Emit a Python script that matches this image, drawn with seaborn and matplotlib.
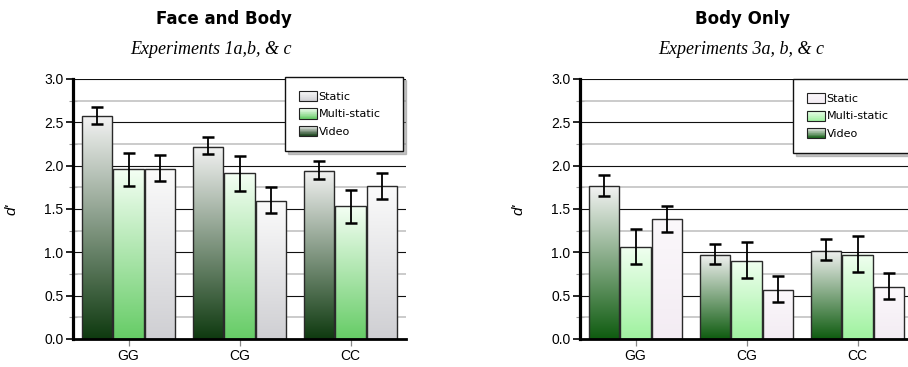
import numpy as np
import pandas as pd
import matplotlib
matplotlib.use("Agg")
import matplotlib.pyplot as plt
import seaborn as sns
from matplotlib.patches import Rectangle, Patch
from matplotlib.legend_handler import HandlerBase
from matplotlib.colors import to_rgb

# ---------------- data ----------------
categories = ["GG", "CG", "CC"]
conditions = ["Video", "Multi-static", "Static"]      # bar order inside a group
legend_order = ["Static", "Multi-static", "Video"]

# Face and Body (Experiments 1a,b, & c)
fb_video = [2.57, 2.22, 1.94]
fb_video_lo = [2.48, 2.14, 1.85]
fb_video_hi = [2.68, 2.33, 2.05]
fb_multi = [1.96, 1.91, 1.53]
fb_multi_lo = [1.77, 1.71, 1.34]
fb_multi_hi = [2.15, 2.11, 1.72]
fb_static = [1.96, 1.59, 1.76]
fb_static_lo = [1.82, 1.45, 1.62]
fb_static_hi = [2.12, 1.75, 1.92]

# Body Only (Experiments 3a, b, & c)
bo_video = [1.76, 0.97, 1.02]
bo_video_lo = [1.65, 0.86, 0.91]
bo_video_hi = [1.89, 1.10, 1.15]
bo_multi = [1.06, 0.90, 0.97]
bo_multi_lo = [0.87, 0.70, 0.77]
bo_multi_hi = [1.27, 1.12, 1.19]
bo_static = [1.38, 0.57, 0.60]
bo_static_lo = [1.24, 0.43, 0.46]
bo_static_hi = [1.54, 0.73, 0.76]

yticks = [0.0, 0.5, 1.0, 1.5, 2.0, 2.5, 3.0]

# gradient colours (top, bottom) per condition
left_grad = {"Video": ("#f2f2f2", "#0f3a10"),
             "Multi-static": ("#f4fff4", "#66cc66"),
             "Static": ("#fbfbfb", "#cfcfd3")}
right_grad = {"Video": ("#f2f2f2", "#0f5c10"),
              "Multi-static": ("#f0fff0", "#9ff29f"),
              "Static": ("#fbf8fb", "#f3ecf3")}


def build_df(vals, los, his):
    rows = []
    for cond, v, lo, hi in zip(conditions, vals, los, his):
        for c, a, b, d in zip(categories, v, lo, hi):
            rows.append({"category": c, "condition": cond, "d": a, "lo": b, "hi": d})
    return pd.DataFrame(rows)


df_left = build_df([fb_video, fb_multi, fb_static],
                   [fb_video_lo, fb_multi_lo, fb_static_lo],
                   [fb_video_hi, fb_multi_hi, fb_static_hi])
df_right = build_df([bo_video, bo_multi, bo_static],
                    [bo_video_lo, bo_multi_lo, bo_static_lo],
                    [bo_video_hi, bo_multi_hi, bo_static_hi])


def gradient_img(top, bottom, n=128):
    t = np.linspace(0, 1, n)[:, None]
    c0 = np.array(to_rgb(top))
    c1 = np.array(to_rgb(bottom))
    img = c0[None, :] * (1 - t[..., None]) + c1[None, :] * t[..., None]
    return img  # row 0 = top


class GradientHandler(HandlerBase):
    def __init__(self, top, bottom):
        super().__init__()
        self.top = top
        self.bottom = bottom

    def create_artists(self, legend, orig_handle, xdescent, ydescent,
                       width, height, fontsize, trans):
        arts = []
        n = 16
        c0 = np.array(to_rgb(self.top))
        c1 = np.array(to_rgb(self.bottom))
        x0, y0 = -xdescent, -ydescent
        for i in range(n):
            t = (i + 0.5) / n
            col = c1 * (1 - t) + c0 * t
            r = Rectangle((x0, y0 + height * i / n), width, height / n + 0.05,
                          facecolor=col, edgecolor="none", transform=trans)
            arts.append(r)
        arts.append(Rectangle((x0, y0), width, height, facecolor="none",
                              edgecolor="#222222", lw=0.8, transform=trans))
        return arts


sns.set_style("white")
plt.rcParams["font.family"] = ["Liberation Sans", "DejaVu Sans"]
plt.rcParams["text.color"] = "black"
plt.rcParams["xtick.color"] = "black"
plt.rcParams["ytick.color"] = "black"
plt.rcParams["axes.labelcolor"] = "black"

fig = plt.figure(figsize=(9.08, 3.67), dpi=100)
ax_l = fig.add_axes([73 / 908, 28 / 367, 333 / 908, 260 / 367])
ax_r = fig.add_axes([580 / 908, 28 / 367, 333 / 908, 260 / 367])


def draw_panel(ax, df, grads, legend_bbox):
    sns.barplot(data=df, x="category", y="d", hue="condition",
                order=categories, hue_order=conditions,
                width=0.845, gap=0.03, errorbar=None, legend=False,
                palette=["#888888"] * 3, ax=ax)
    for cond, cont in zip(conditions, ax.containers):
        top, bottom = grads[cond]
        img = gradient_img(top, bottom)
        for patch in cont.patches:
            x, w, h = patch.get_x(), patch.get_width(), patch.get_height()
            ax.imshow(img, extent=[x, x + w, 0, h], aspect="auto",
                      zorder=2, interpolation="bilinear")
            patch.set_facecolor("none")
            patch.set_edgecolor("#2a2a2a")
            patch.set_linewidth(1.0)
            patch.set_zorder(2.5)
        sub = df[df["condition"] == cond].set_index("category").loc[categories]
        xs = [p.get_x() + p.get_width() / 2 for p in cont.patches]
        yerr = [sub["d"].values - sub["lo"].values, sub["hi"].values - sub["d"].values]
        ax.errorbar(xs, sub["d"].values, yerr=yerr, fmt="none", ecolor="black",
                    elinewidth=1.3, capsize=4.5, capthick=1.8, zorder=4)

    ax.set_xlim(-0.5, 2.5)
    ax.set_ylim(0, 3.0)
    ax.set_yticks(yticks)
    ax.set_yticklabels([f"{v:.1f}" for v in yticks], fontsize=10)
    ax.set_yticks(np.arange(0.25, 3.0, 0.5), minor=True)
    ax.set_xticks(range(len(categories)))
    ax.set_xticklabels(categories, fontsize=10)
    ax.set_xlabel("")
    ax.set_ylabel("d'", fontsize=11, style="italic")
    ax.yaxis.set_label_coords(-0.165, 0.5)

    ax.grid(False)
    ax.set_axisbelow(True)
    for v in yticks[1:]:
        ax.axhline(v, color="#111111", lw=0.8, zorder=1)
    for v in np.arange(0.25, 3.0, 0.5):
        ax.axhline(v, color="#bdbdbd", lw=1.1, zorder=1)

    for s in ["top", "right"]:
        ax.spines[s].set_visible(False)
    ax.spines["left"].set_linewidth(2.3)
    ax.spines["left"].set_color("black")
    ax.spines["bottom"].set_linewidth(2.0)
    ax.spines["bottom"].set_color("black")
    ax.spines["bottom"].set_zorder(3)

    ax.tick_params(axis="y", which="major", direction="out", length=5,
                   width=1.2, color="black", pad=2, left=True)
    ax.tick_params(axis="y", which="minor", direction="inout", length=6,
                   width=0.8, color="#999999", left=True)
    ax.tick_params(axis="x", which="major", direction="out", length=5,
                   width=0.9, color="#888888", pad=2, bottom=True)

    handles = [Patch(label=l) for l in legend_order]
    hmap = {h: GradientHandler(*grads[l]) for h, l in zip(handles, legend_order)}
    leg = ax.legend(handles=handles, labels=legend_order, handler_map=hmap,
                    loc="upper left", bbox_to_anchor=legend_bbox, mode="expand",
                    prop={"family": "DejaVu Sans", "size": 8},
                    frameon=True, fancybox=False, framealpha=1.0,
                    edgecolor="#111111", borderpad=1.25, handlelength=1.6,
                    handleheight=1.05, handletextpad=0.15, labelspacing=0.6,
                    borderaxespad=0,
                    shadow={"color": "0.55", "alpha": 0.5})
    leg.get_frame().set_linewidth(1.0)
    leg.set_zorder(6)


draw_panel(ax_l, df_left, left_grad, (0.637, 0.715, 0.354, 0.293))
draw_panel(ax_r, df_right, right_grad, (0.64, 0.70, 0.40, 0.30))

fig.text(224 / 908, 1 - 19 / 367, "Face and Body", ha="center", va="center",
         fontsize=12, fontweight="bold", family="DejaVu Sans", color="black")
fig.text(211 / 908, 1 - 50 / 367, "Experiments 1a,b, & c", ha="center",
         va="center", fontsize=13, style="italic", family="Liberation Serif",
         color="black")
fig.text(743 / 908, 1 - 19 / 367, "Body Only", ha="center", va="center",
         fontsize=12, fontweight="bold", family="DejaVu Sans", color="black")
fig.text(741 / 908, 1 - 50 / 367, "Experiments 3a, b, & c", ha="center",
         va="center", fontsize=13, style="italic", family="Liberation Serif",
         color="black")

fig.savefig("out.png", dpi=100)
